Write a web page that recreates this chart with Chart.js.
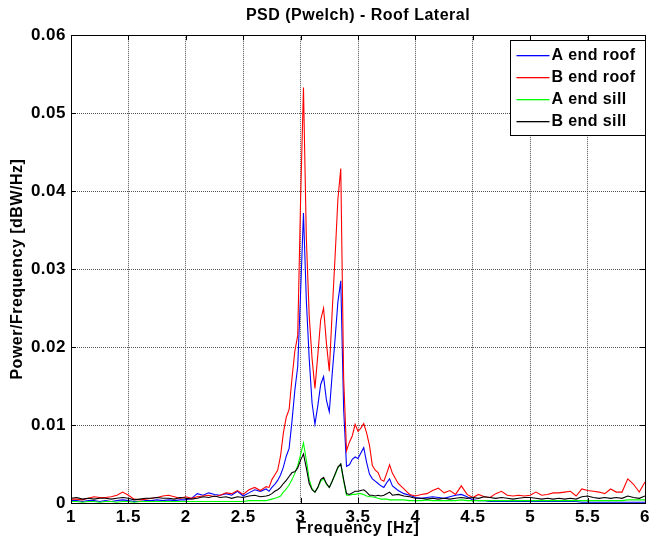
<!DOCTYPE html>
<html>
<head>
<meta charset="utf-8">
<title>PSD (Pwelch) - Roof Lateral</title>
<script src="https://cdn.jsdelivr.net/npm/chart.js@4.4.1/dist/chart.umd.min.js"></script>
<style>
  html, body { margin: 0; padding: 0; background: #fff; }
  #wrap { width: 658px; height: 545px; }
</style>
</head>
<body>
<div id="wrap"><canvas id="psdChart" width="658" height="545"></canvas></div>
<script>
// frequency bins [Hz] (finer around the resonance)
const freqs = [
  1.00, 1.05, 1.10, 1.15, 1.20, 1.25, 1.30, 1.35, 1.40, 1.45, 1.50, 1.55, 1.60, 1.65, 1.70, 1.75, 1.80,
  1.85, 1.90, 1.95, 2.00, 2.05, 2.10, 2.15, 2.20, 2.25, 2.30, 2.35, 2.40, 2.45, 2.50, 2.55, 2.60, 2.65,
  2.700, 2.725, 2.750, 2.775, 2.800, 2.825, 2.850, 2.875, 2.900, 2.925, 2.950, 2.975, 3.000, 3.025, 3.050,
  3.075, 3.100, 3.125, 3.150, 3.175, 3.200, 3.225, 3.250, 3.275, 3.300, 3.325, 3.350, 3.375, 3.400, 3.425,
  3.450, 3.475, 3.500, 3.525, 3.550, 3.575, 3.600, 3.625, 3.650, 3.675, 3.700, 3.725, 3.750, 3.775, 3.800,
  3.85, 3.90, 3.95, 4.00, 4.05, 4.10, 4.15, 4.20, 4.25, 4.30, 4.35, 4.40, 4.45, 4.50, 4.55, 4.60, 4.65,
  4.70, 4.75, 4.80, 4.85, 4.90, 4.95, 5.00, 5.05, 5.10, 5.15, 5.20, 5.25, 5.30, 5.35, 5.40, 5.45, 5.50,
  5.55, 5.60, 5.65, 5.70, 5.75, 5.80, 5.85, 5.90, 5.95, 6.00
];

const aEndRoof = [
  0.0003, 0.0003, 0.0002, 0.0003, 0.0003, 0.0002, 0.0003, 0.0002, 0.0003, 0.0004, 0.0003, 0.0002, 0.0002, 0.0003, 0.0003, 0.0004, 0.0003,
  0.0004, 0.0003, 0.0004, 0.0004, 0.0006, 0.0012, 0.0010, 0.0013, 0.0011, 0.0010, 0.0012, 0.0010, 0.0015, 0.0009, 0.0013, 0.0017, 0.0015,
  0.0018, 0.0015, 0.0020, 0.0024, 0.0029, 0.0036, 0.0046, 0.0060, 0.0070, 0.0105, 0.0145, 0.0175, 0.0270, 0.0372, 0.0260,
  0.0185, 0.0128, 0.0101, 0.0125, 0.0152, 0.0162, 0.0132, 0.0117, 0.0165, 0.0210, 0.0258, 0.0285, 0.0120, 0.0047, 0.0049,
  0.0056, 0.0059, 0.0057, 0.0064, 0.0071, 0.0052, 0.0037, 0.0031, 0.0028, 0.0025, 0.0022, 0.0020, 0.0026, 0.0031, 0.0022,
  0.0016, 0.0012, 0.0010, 0.0007, 0.0006, 0.0007, 0.0008, 0.0007, 0.0006, 0.0008, 0.0010, 0.0011, 0.0008, 0.0004, 0.0003, 0.0003, 0.0002,
  0.0002, 0.0002, 0.0002, 0.0002, 0.0002, 0.0002, 0.0002, 0.0002, 0.0002, 0.0002, 0.0002, 0.0002, 0.0002, 0.0002, 0.0002, 0.0001, 0.0001,
  0.0001, 0.0001, 0.0001, 0.0001, 0.0001, 0.0001, 0.0001, 0.0001, 0.0001, 0.0001
];

const bEndRoof = [
  0.0005, 0.0005, 0.0004, 0.0006, 0.0008, 0.0007, 0.0007, 0.0008, 0.0010, 0.0014, 0.0010, 0.0005, 0.0004, 0.0005, 0.0006, 0.0007, 0.0009,
  0.0010, 0.0008, 0.0006, 0.0008, 0.0006, 0.0008, 0.0009, 0.0010, 0.0008, 0.0010, 0.0013, 0.0012, 0.0016, 0.0011, 0.0017, 0.0020, 0.0016,
  0.0021, 0.0020, 0.0030, 0.0036, 0.0042, 0.0060, 0.0090, 0.0110, 0.0120, 0.0160, 0.0195, 0.0215, 0.0390, 0.0533, 0.0340,
  0.0240, 0.0185, 0.0147, 0.0190, 0.0235, 0.0250, 0.0205, 0.0169, 0.0245, 0.0315, 0.0390, 0.0429, 0.0160, 0.0067, 0.0078,
  0.0086, 0.0101, 0.0092, 0.0096, 0.0102, 0.0090, 0.0074, 0.0048, 0.0042, 0.0039, 0.0030, 0.0028, 0.0038, 0.0049, 0.0038,
  0.0025, 0.0018, 0.0011, 0.0009, 0.0011, 0.0012, 0.0016, 0.0019, 0.0013, 0.0016, 0.0011, 0.0022, 0.0011, 0.0007, 0.0011, 0.0008, 0.0007,
  0.0012, 0.0015, 0.0010, 0.0009, 0.0010, 0.0009, 0.0010, 0.0014, 0.0010, 0.0011, 0.0013, 0.0013, 0.0014, 0.0015, 0.0009, 0.0018, 0.0016,
  0.0015, 0.0014, 0.0012, 0.0018, 0.0014, 0.0014, 0.0031, 0.0024, 0.0014, 0.0027
];

const aEndSill = [
  0.0002, 0.0002, 0.0001, 0.0002, 0.0002, 0.0001, 0.0002, 0.0002, 0.0001, 0.0002, 0.0002, 0.0001, 0.0002, 0.0002, 0.0002, 0.0002, 0.0002,
  0.0002, 0.0002, 0.0002, 0.0002, 0.0002, 0.0002, 0.0002, 0.0002, 0.0002, 0.0002, 0.0002, 0.0002, 0.0002, 0.0002, 0.0003, 0.0003, 0.0003,
  0.0003, 0.0004, 0.0005, 0.0006, 0.0007, 0.0009, 0.0014, 0.0018, 0.0023, 0.0030, 0.0038, 0.0048, 0.0062, 0.0077, 0.0055,
  0.0030, 0.0018, 0.0014, 0.0020, 0.0028, 0.0031, 0.0024, 0.0020, 0.0028, 0.0036, 0.0045, 0.0050, 0.0028, 0.0010, 0.0010,
  0.0011, 0.0011, 0.0012, 0.0012, 0.0011, 0.0009, 0.0008, 0.0008, 0.0007, 0.0006, 0.0005, 0.0005, 0.0005, 0.0004, 0.0004,
  0.0004, 0.0004, 0.0003, 0.0003, 0.0003, 0.0004, 0.0003, 0.0003, 0.0003, 0.0003, 0.0003, 0.0004, 0.0003, 0.0003, 0.0003, 0.0003, 0.0003,
  0.0003, 0.0003, 0.0003, 0.0003, 0.0003, 0.0003, 0.0003, 0.0003, 0.0003, 0.0003, 0.0003, 0.0003, 0.0003, 0.0003, 0.0003, 0.0003, 0.0003,
  0.0003, 0.0003, 0.0003, 0.0003, 0.0003, 0.0003, 0.0004, 0.0004, 0.0004, 0.0004
];

const bEndSill = [
  0.0006, 0.0007, 0.0005, 0.0006, 0.0005, 0.0006, 0.0006, 0.0005, 0.0006, 0.0007, 0.0006, 0.0004, 0.0005, 0.0006, 0.0006, 0.0007, 0.0006,
  0.0006, 0.0005, 0.0007, 0.0006, 0.0005, 0.0006, 0.0008, 0.0007, 0.0009, 0.0007, 0.0008, 0.0006, 0.0008, 0.0007, 0.0009, 0.0010, 0.0008,
  0.0009, 0.0010, 0.0012, 0.0015, 0.0017, 0.0020, 0.0025, 0.0029, 0.0034, 0.0039, 0.0040, 0.0045, 0.0055, 0.0063, 0.0045,
  0.0025, 0.0017, 0.0014, 0.0020, 0.0030, 0.0033, 0.0025, 0.0020, 0.0028, 0.0037, 0.0046, 0.0050, 0.0030, 0.0012, 0.0011,
  0.0013, 0.0015, 0.0015, 0.0016, 0.0017, 0.0014, 0.0010, 0.0010, 0.0009, 0.0010, 0.0009, 0.0010, 0.0012, 0.0014, 0.0010,
  0.0011, 0.0009, 0.0008, 0.0006, 0.0006, 0.0005, 0.0006, 0.0005, 0.0006, 0.0005, 0.0006, 0.0007, 0.0006, 0.0007, 0.0006, 0.0008, 0.0007,
  0.0006, 0.0007, 0.0006, 0.0005, 0.0006, 0.0007, 0.0007, 0.0006, 0.0005, 0.0006, 0.0005, 0.0006, 0.0005, 0.0006, 0.0005, 0.0008, 0.0009,
  0.0007, 0.0006, 0.0007, 0.0006, 0.0007, 0.0006, 0.0009, 0.0007, 0.0006, 0.0009
];

const seriesNames = ['A end roof', 'B end roof', 'A end sill', 'B end sill'];
const seriesColors = ['#0000ff', '#ff0000', '#00ff00', '#000000'];
const seriesValues = [aEndRoof, bEndRoof, aEndSill, bEndSill];

const FONT = "'Liberation Sans', Arial, sans-serif";

// the matlab text is a bit wider than Arial at the same height
const wideText = {
  id: 'wideText',
  beforeLayout(chart) { chart.ctx.letterSpacing = '0.5px'; },
  beforeDraw(chart) { chart.ctx.letterSpacing = '0.5px'; }
};

// matlab style box, inward ticks and legend inside the axes
const matlabAxes = {
  id: 'matlabAxes',
  afterDraw(chart) {
    const ctx = chart.ctx;
    const a = chart.chartArea;
    const xs = chart.scales.x, ys = chart.scales.y;
    ctx.save();
    ctx.setLineDash([]);
    ctx.strokeStyle = '#000';
    ctx.lineWidth = 1;
    ctx.beginPath();
    xs.ticks.forEach(t => {
      const px = Math.round(xs.getPixelForValue(t.value)) + 0.5;
      ctx.moveTo(px, a.bottom); ctx.lineTo(px, a.bottom - 5);
      ctx.moveTo(px, a.top); ctx.lineTo(px, a.top + 5);
    });
    ys.ticks.forEach(t => {
      const py = Math.round(ys.getPixelForValue(t.value)) + 0.5;
      ctx.moveTo(a.left, py); ctx.lineTo(a.left + 5, py);
      ctx.moveTo(a.right, py); ctx.lineTo(a.right - 5, py);
    });
    ctx.stroke();
    ctx.strokeRect(Math.round(a.left) + 0.5, Math.round(a.top) + 0.5,
      Math.round(a.right - a.left), Math.round(a.bottom - a.top));

    // legend
    const lx = 510.5, ly = 40.5, lw = 135, lh = 95;
    ctx.fillStyle = '#fff';
    ctx.fillRect(lx, ly, lw, lh);
    ctx.strokeStyle = '#000';
    ctx.strokeRect(lx, ly, lw, lh);
    ctx.font = 'bold 16px ' + FONT;
    ctx.letterSpacing = '0.4px';
    ctx.textBaseline = 'middle';
    ctx.textAlign = 'left';
    seriesNames.forEach((name, i) => {
      const y = Math.round(ly + 14 + i * 22);
      ctx.fillStyle = seriesColors[i];
      ctx.fillRect(lx + 6, y, 33, 1.3);
      ctx.fillStyle = '#000';
      ctx.fillText(name, lx + 41, y + 1);
    });
    ctx.restore();
  }
};

const datasets = seriesValues.map((vals, i) => ({
  label: seriesNames[i],
  data: freqs.map((f, j) => ({ x: f, y: vals[j] })),
  borderColor: seriesColors[i],
  borderWidth: 1.1,
  pointRadius: 0,
  tension: 0,
  order: 3 - i
}));

new Chart(document.getElementById('psdChart'), {
  type: 'line',
  data: { datasets },
  options: {
    responsive: false,
    animation: false,
    devicePixelRatio: 1,
    layout: { padding: { top: 0, right: 13, bottom: 0, left: 0 } },
    plugins: {
      legend: { display: false },
      tooltip: { enabled: false },
      title: {
        display: true,
        fullSize: false,
        text: 'PSD (Pwelch) - Roof Lateral',
        color: '#000',
        font: { family: FONT, size: 16, weight: 'bold' },
        padding: { top: 6, bottom: 10 }
      }
    },
    scales: {
      x: {
        type: 'linear',
        min: 1, max: 6,
        afterFit: s => { s.height = 42; },
        ticks: {
          stepSize: 0.5,
          padding: 4,
          color: '#000',
          font: { family: FONT, size: 17, weight: 'bold' },
          maxRotation: 0,
          callback: v => String(Number(v.toFixed(2)))
        },
        grid: { color: '#555', lineWidth: 1, drawTicks: false },
        border: { display: false, dash: [1, 1] },
        title: {
          display: true,
          text: 'Frequency [Hz]',
          color: '#000',
          font: { family: FONT, size: 16, weight: 'bold' },
          padding: { top: 0, bottom: 7 }
        }
      },
      y: {
        min: 0, max: 0.06,
        afterFit: s => { s.width = 71; },
        ticks: {
          stepSize: 0.01,
          padding: 5,
          color: '#000',
          font: { family: FONT, size: 17, weight: 'bold' },
          callback: v => v === 0 ? '0' : v.toFixed(2)
        },
        grid: { color: '#555', lineWidth: 1, drawTicks: false },
        border: { display: false, dash: [1, 1] },
        title: {
          display: true,
          text: 'Power/Frequency [dBW/Hz]',
          color: '#000',
          font: { family: FONT, size: 16, weight: 'bold' },
          padding: { top: 8, bottom: 0 }
        }
      }
    }
  },
  plugins: [wideText, matlabAxes]
});
</script>
</body>
</html>
